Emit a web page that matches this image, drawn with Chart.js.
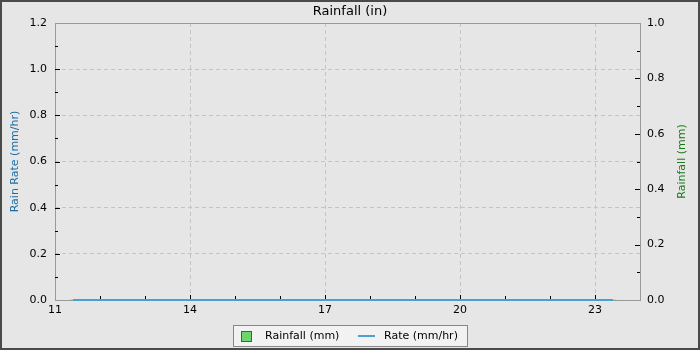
<!DOCTYPE html>
<html>
<head>
<meta charset="utf-8">
<script src="https://cdn.jsdelivr.net/npm/chart.js@4/dist/chart.umd.min.js"></script>
<style>
html,body{margin:0;padding:0;background:#e6e6e6;}
#wrap{width:700px;height:350px;position:relative;}
canvas{display:block;}
</style>
</head>
<body>
<div id="wrap"><canvas id="c" width="700" height="350"></canvas></div>
<script>
// ---- data ----
const hours = [11.4, 12, 13, 14, 15, 16, 17, 18, 19, 20, 21, 22, 23, 23.4];
const rainRate = [0, 0, 0, 0, 0, 0, 0, 0, 0, 0, 0, 0, 0, 0];
const rainfall = [0, 0, 0, 0, 0, 0, 0, 0, 0, 0, 0, 0, 0, 0];
const xTicks = [11, 14, 17, 20, 23];
const titleText = 'Rainfall (in)';
const leftTitle = 'Rain Rate (mm/hr)';
const rightTitle = 'Rainfall (mm)';
const legendLabels = ['Rainfall (mm)', 'Rate (mm/hr)'];

const FONT = 'DejaVu Sans';
const BG = '#e6e6e6';
const FRAME = '#999999';
const GRID = '#c4c4c4';
const RATE_COLOR = '#4a9fd3';
const RAIN_COLOR = '#6ed46e';

const decor = {
  id: 'decor',
  beforeDraw(chart) {
    const ctx = chart.ctx;
    ctx.save();
    ctx.fillStyle = BG;
    ctx.fillRect(0, 0, chart.width, chart.height);
    ctx.restore();
  },
  beforeDatasetsDraw(chart) {
    const ctx = chart.ctx;
    const a = chart.chartArea;
    const x = chart.scales.x, yl = chart.scales.yL, yr = chart.scales.yR;
    ctx.save();
    // frame of plot area
    ctx.strokeStyle = FRAME;
    ctx.lineWidth = 1;
    ctx.strokeRect(Math.round(a.left) + 0.5, Math.round(a.top) + 0.5,
                   Math.round(a.right) - Math.round(a.left), Math.round(a.bottom) - Math.round(a.top));
    // inward ticks
    ctx.strokeStyle = '#000';
    ctx.lineWidth = 1;
    ctx.beginPath();
    for (let i = 1; i < 12; i++) {
      const v = i / 10;
      const py = Math.round(yl.getPixelForValue(v)) + 0.5;
      const len = (i % 2 === 0) ? 5 : 3;
      ctx.moveTo(a.left, py); ctx.lineTo(a.left + len, py);
    }
    for (let i = 1; i < 10; i++) {
      const v = i / 10;
      const py = Math.round(yr.getPixelForValue(v)) + 0.5;
      const len = (i % 2 === 0) ? 5 : 3;
      ctx.moveTo(a.right, py); ctx.lineTo(a.right - len, py);
    }
    for (let h = 12; h <= 23; h++) {
      const px = Math.round(x.getPixelForValue(h)) + 0.5;
      const len = ((h - 11) % 3 === 0) ? 5 : 4;
      ctx.moveTo(px, a.bottom); ctx.lineTo(px, a.bottom - len);
    }
    ctx.stroke();
    ctx.restore();
  },
  afterDraw(chart) {
    const ctx = chart.ctx;
    const a = chart.chartArea;
    ctx.save();
    // axis titles
    ctx.font = '11px "' + FONT + '"';
    ctx.textAlign = 'center';
    ctx.textBaseline = 'middle';
    const cy = (a.top + a.bottom) / 2;
    ctx.save();
    ctx.translate(15, cy);
    ctx.rotate(-Math.PI / 2);
    ctx.fillStyle = '#1a6ea5';
    ctx.fillText(leftTitle, 0, 0);
    ctx.restore();
    ctx.save();
    ctx.translate(682, cy);
    ctx.rotate(-Math.PI / 2);
    ctx.fillStyle = '#1a7a1a';
    ctx.fillText(rightTitle, 0, 0);
    ctx.restore();
    // legend
    const lx = 233.5, ly = 325.5, lw = 234, lh = 21;
    ctx.fillStyle = '#f2f2f2';
    ctx.fillRect(lx, ly, lw, lh);
    ctx.strokeStyle = '#888';
    ctx.lineWidth = 1;
    ctx.strokeRect(lx, ly, lw, lh);
    ctx.fillStyle = RAIN_COLOR;
    ctx.fillRect(241.5, 331.5, 10, 10);
    ctx.strokeStyle = '#555';
    ctx.strokeRect(241.5, 331.5, 10, 10);
    ctx.strokeStyle = RATE_COLOR;
    ctx.lineWidth = 2;
    ctx.beginPath(); ctx.moveTo(358, 336); ctx.lineTo(375, 336); ctx.stroke();
    ctx.fillStyle = '#000';
    ctx.textAlign = 'left';
    ctx.font = '11px "' + FONT + '"';
    ctx.fillText(legendLabels[0], 265, 336.5);
    ctx.fillText(legendLabels[1], 384, 336.5);
    // outer border
    ctx.strokeStyle = '#4a4a4a';
    ctx.lineWidth = 2;
    ctx.strokeRect(1, 1, chart.width - 2, chart.height - 2);
    ctx.restore();
  }
};

new Chart(document.getElementById('c'), {
  type: 'bar',
  data: {
    datasets: [
      {
        type: 'line',
        label: legendLabels[1],
        data: hours.map((h, i) => ({x: h, y: rainRate[i]})),
        borderColor: RATE_COLOR,
        borderWidth: 2,
        pointRadius: 0,
        yAxisID: 'yL',
        clip: false,
        order: 1
      },
      {
        type: 'bar',
        label: legendLabels[0],
        data: hours.map((h, i) => ({x: h, y: rainfall[i]})),
        backgroundColor: RAIN_COLOR,
        borderWidth: 0,
        barThickness: 6,
        yAxisID: 'yR',
        order: 2
      }
    ]
  },
  options: {
    responsive: false,
    animation: false,
    layout: {padding: {left: 0, right: 0, top: 0, bottom: 30}},
    plugins: {
      legend: {display: false},
      tooltip: {enabled: false},
      title: {
        display: true,
        text: titleText,
        color: '#000',
        font: {family: FONT, size: 13, weight: 'normal'},
        padding: {top: 4, bottom: 3.4}
      }
    },
    scales: {
      x: {
        type: 'linear',
        min: 11, max: 24,
        offset: false,
        afterBuildTicks: s => { s.ticks = xTicks.map(v => ({value: v})); },
        afterFit: s => { s.height = 20; },
        ticks: {color: '#000', font: {family: FONT, size: 11}, padding: 4, maxRotation: 0, autoSkip: false},
        grid: {color: GRID, drawTicks: false, lineWidth: 1, offset: false},
        border: {display: false, dash: [4, 3]}
      },
      yL: {
        type: 'linear', position: 'left',
        min: 0, max: 1.2,
        afterFit: s => { s.width = 55; },
        ticks: {stepSize: 0.2, color: '#000', font: {family: FONT, size: 11}, padding: 8,
                callback: v => Number(v).toFixed(1)},
        grid: {color: GRID, drawTicks: false, lineWidth: 1},
        border: {display: false, dash: [4, 3]}
      },
      yR: {
        type: 'linear', position: 'right',
        min: 0, max: 1.0,
        afterFit: s => { s.width = 60; },
        ticks: {stepSize: 0.2, color: '#000', font: {family: FONT, size: 11}, padding: 7,
                callback: v => Number(v).toFixed(1)},
        grid: {display: false, drawTicks: false},
        border: {display: false}
      }
    }
  },
  plugins: [decor]
});
</script>
</body>
</html>
